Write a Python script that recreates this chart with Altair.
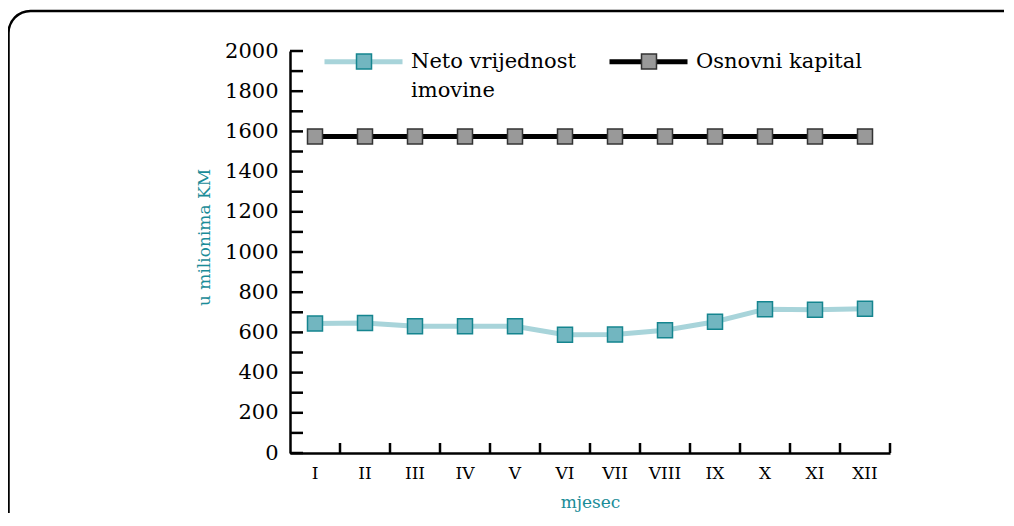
import altair as alt
import pandas as pd

# ---- data ----
months = ["I", "II", "III", "IV", "V", "VI", "VII", "VIII", "IX", "X", "XI", "XII"]
neto = [644, 647, 631, 631, 631, 588, 589, 611, 653, 715, 713, 718]
osnovni = [1575, 1575, 1575, 1575, 1575, 1575, 1575, 1575, 1575, 1575, 1575, 1575]
series_names = ["Neto vrijednost imovine", "Osnovni kapital"]
y_label_values = [0, 200, 400, 600, 800, 1000, 1200, 1400, 1600, 1800, 2000]
y_tick_values = [0, 100, 200, 300, 400, 500, 600, 700, 800, 900, 1000,
                 1100, 1200, 1300, 1400, 1500, 1600, 1700, 1800, 1900, 2000]

FONT = "DejaVu Serif"
TEAL_TXT = "#1a8c98"
LINE_TEAL = "#a8d4da"
SQ_TEAL = "#72b6c0"
SQ_TEAL_STROKE = "#15858f"

rows = []
for m, v in zip(months, neto):
    rows.append({"month": m, "value": v, "series": series_names[0], "series_p": series_names[0]})
for m, v in zip(months, osnovni):
    rows.append({"month": m, "value": v, "series": series_names[1], "series_p": series_names[1]})
df = pd.DataFrame(rows)

W, H = 600, 402

x_enc = alt.X("month:N", sort=months,
              scale=alt.Scale(domain=months, paddingInner=0, paddingOuter=0),
              axis=alt.Axis(title="mjesec", titleColor=TEAL_TXT, titleFont=FONT,
                            titleFontSize=17, titleFontWeight="normal",
                            labelFont=FONT, labelFontSize=17, labelColor="black",
                            labelAngle=0, labelAlign="center", ticks=False, tickSize=0,
                            labelPadding=20, titlePadding=13, domainColor="black",
                            domainWidth=2.5, grid=False))
y_enc = alt.Y("value:Q",
              scale=alt.Scale(domain=[0, 2000], nice=False),
              axis=alt.Axis(title="u milionima KM", titleColor=TEAL_TXT, titleFont=FONT,
                            titleFontSize=17, titleFontWeight="normal",
                            labelFont=FONT, labelFontSize=21, labelColor="black",
                            values=y_label_values, format="d", ticks=False, tickSize=0,
                            labelPadding=12, titlePadding=11, titleY=186,
                            domainColor="black", domainWidth=2.5, grid=False))

label_expr = ("datum.label == 'Neto vrijednost imovine' ? "
              "['Neto vrijednost', 'imovine'] : [datum.label, '']")

line_legend = alt.Legend(orient="none", legendX=32, legendY=-31, direction="horizontal",
                         columns=2, symbolType="stroke", symbolSize=6084,
                         symbolStrokeWidth=5, labelFont=FONT, labelFontSize=21,
                         labelColor="black", labelOffset=6, columnPadding=23,
                         labelExpr=label_expr, labelLimit=400, padding=0, title=None)
sq_legend = alt.Legend(orient="none", legendX=64.5, legendY=1, direction="horizontal",
                       columns=2, symbolType="square", symbolSize=225,
                       symbolStrokeWidth=1.5, labelFont=FONT, labelFontSize=19,
                       labelOffset=0, columnPadding=264,
                       labelExpr="''", labelLimit=400, padding=0, title=None)

lines = alt.Chart(df).mark_line(strokeWidth=5).encode(
    x=x_enc, y=y_enc,
    color=alt.Color("series:N", scale=alt.Scale(domain=series_names,
                                                range=[LINE_TEAL, "black"]),
                    legend=line_legend),
)
points = alt.Chart(df).mark_point(shape="square", filled=True, size=225,
                                  strokeWidth=1.5, opacity=1).encode(
    x=x_enc, y=y_enc,
    fill=alt.Fill("series_p:N", scale=alt.Scale(range=[SQ_TEAL, "#999999"]),
                  legend=sq_legend),
    stroke=alt.Stroke("series_p:N", scale=alt.Scale(range=[SQ_TEAL_STROKE, "#333333"]),
                      legend=sq_legend),
)

ytick_df = pd.DataFrame({"value": y_tick_values})
y_ticks = alt.Chart(ytick_df).mark_rule(color="black", strokeWidth=2.5).encode(
    y=alt.Y("value:Q"), x=alt.value(0), x2=alt.value(13))

xtick_df = pd.DataFrame({"month": months})
x_ticks = alt.Chart(xtick_df).mark_rule(color="black", strokeWidth=2.5).encode(
    x=alt.X("month:N", sort=months, bandPosition=1),
    y=alt.value(H), y2=alt.value(H - 10))

frame = alt.Chart(pd.DataFrame({"a": [0]})).mark_rect(
    filled=False, stroke="black", strokeWidth=2.5, cornerRadius=22).encode(
    x=alt.value(-281.5), x2=alt.value(745), y=alt.value(-40), y2=alt.value(486))

chart = alt.layer(frame, y_ticks, x_ticks, lines, points).resolve_scale(
    color="independent", fill="independent", stroke="independent"
).properties(
    width=W, height=H,
    autosize=alt.AutoSizeParams(type="none"),
    padding={"left": 282, "top": 43, "right": 114, "bottom": 60},
).configure(
    style={"guide-label": {"lineHeight": 29}},
    view=alt.ViewConfig(strokeWidth=0),
)

chart.save("out.html", embed_options={"renderer": "svg", "actions": False})
